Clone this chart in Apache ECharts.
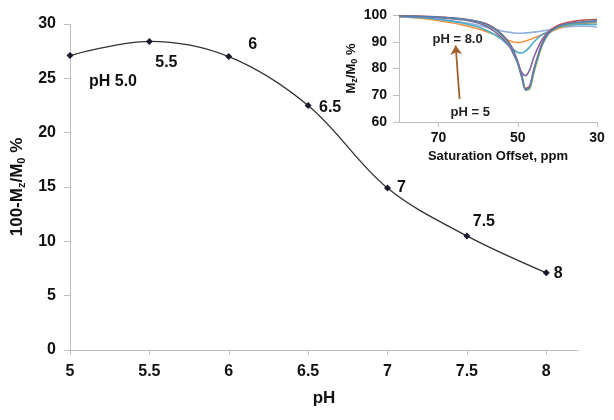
<!DOCTYPE html>
<html>
<head>
<meta charset="utf-8">
<script src="https://cdn.jsdelivr.net/npm/echarts@6/dist/echarts.min.js"></script>
<style>html,body{margin:0;padding:0;background:#fff}#c{width:614px;height:420px}</style>
</head>
<body>
<div id="c"></div>
<script>
// ---- main chart data ----
const phValues = [5, 5.5, 6, 6.5, 7, 7.5, 8];
const satPercent = [27.1, 28.4, 27.0, 22.5, 14.9, 10.5, 7.1];
const pointLabels = ['pH 5.0', '5.5', '6', '6.5', '7', '7.5', '8'];
const xTicks = [5, 5.5, 6, 6.5, 7, 7.5, 8];

// ---- inset (Z-spectra) data ----
const offsetPpm = [80,76,72,68,64,60,58,56,54,52,51,50,49,48,47,46,45,44,43,42,40,38,35,32,30];
const zPH5  = [99.6,99.5,99.3,99.0,98.5,97.5,96.5,95.0,92.5,89.0,86.0,82.0,77.0,72.0,73.0,79.0,84.0,88.5,91.5,93.5,95.5,96.5,97.2,97.6,97.8];
const zPH55 = [99.7,99.6,99.4,99.1,98.6,97.6,96.7,95.2,92.8,89.3,86.4,82.5,77.5,72.5,73.5,79.5,84.5,89.0,92.0,94.0,96.0,97.0,97.8,98.2,98.3];
const zPH6  = [99.6,99.5,99.3,99.0,98.4,97.4,96.4,94.8,92.3,88.8,85.8,81.7,76.5,72.0,72.3,78.0,83.3,88.0,91.2,93.2,95.2,96.3,97.0,97.4,97.5];
const zPH65 = [99.6,99.4,99.2,98.8,98.2,97.0,95.8,94.0,91.5,88.0,85.0,82.0,78.5,77.3,79.5,84.0,87.5,90.5,92.5,94.0,95.8,96.6,97.0,97.3,97.4];
const zPH7  = [99.5,99.2,98.7,98.0,97.0,95.5,94.3,92.8,90.8,88.2,87.0,86.0,85.8,86.6,88.0,89.8,91.3,92.5,93.3,94.0,95.3,96.0,96.5,96.5,96.5];
const zPH75 = [99.4,99.0,98.3,97.4,96.3,94.8,93.8,92.7,91.5,90.3,89.9,89.7,89.9,90.3,90.8,91.4,92.0,92.6,93.1,93.6,94.8,95.8,96.6,97.0,97.2];
const zPH8  = [99.3,99.0,98.6,98.0,97.2,96.2,95.5,94.8,94.0,93.5,93.3,93.2,93.2,93.3,93.4,93.6,93.8,94.0,94.3,94.5,95.0,95.5,95.8,95.8,95.5];
const insetSeriesNames = ['pH 5','pH 5.5','pH 6','pH 6.5','pH 7','pH 7.5','pH 8'];
const insetTicks = [30, 50, 70];

const insetData = [zPH5, zPH55, zPH6, zPH65, zPH7, zPH75, zPH8];
const insetColors = ['#4F81BD','#C0504D','#9BBB59','#8064A2','#4BACC6','#F79646','#8FB0DA'];
const labelOffsets = [[43,26],[17,21],[24,-12],[22,2],[14,0],[17,-14],[12,1]];

const FONT = '"Liberation Sans", Arial, sans-serif';
const axisGray = '#BFBFBF';

const chart = echarts.init(document.getElementById('c'), null, {renderer: 'canvas'});

const insetSeries = insetData.map((arr, i) => ({
  name: insetSeriesNames[i],
  type: 'line',
  xAxisIndex: 1, yAxisIndex: 1,
  smooth: 0.3,
  symbol: 'none',
  lineStyle: {width: 1.6, color: insetColors[i]},
  z: 3 + (6 - i),
  data: offsetPpm.map((x, j) => [x, arr[j]])
}));

// annotation series (arrow + texts) in inset coordinates
insetSeries.push({
  type: 'line', xAxisIndex: 1, yAxisIndex: 1, data: [], symbol: 'none',
  markLine: {
    silent: true, symbol: ['none', 'arrow'], symbolSize: 9,
    label: {show: false},
    lineStyle: {color: '#A0622D', width: 1.8, type: 'solid'},
    data: [[{coord: [64.7, 68.6]}, {coord: [65.7, 88.6]}]]
  },
  markPoint: {
    silent: true, symbol: 'circle', symbolSize: 0,
    label: {show: true, position: 'inside', color: '#222', fontFamily: FONT, fontWeight: 'bold', fontSize: 13},
    data: [
      {coord: [65.2, 90.7], value: 'pH = 8.0', label: {formatter: 'pH = 8.0'}},
      {coord: [62.0, 63.7], value: 'pH = 5', label: {formatter: 'pH = 5'}}
    ]
  }
});

const option = {
  backgroundColor: '#fff',
  animation: false,
  grid: [
    {left: 70, right: 36, top: 24, bottom: 70},
    {left: 399, right: 17, top: 15, bottom: 298}
  ],
  xAxis: [
    {
      type: 'value', gridIndex: 0, min: 5, max: 8.2, interval: 0.5,
      name: 'pH', nameLocation: 'middle', nameGap: 40,
      nameTextStyle: {fontFamily: FONT, fontWeight: 'bold', fontSize: 17, color: '#111'},
      axisLine: {show: true, lineStyle: {color: axisGray, width: 1}},
      axisTick: {show: true, length: 5, lineStyle: {color: axisGray}, customValues: xTicks},
      axisLabel: {customValues: xTicks, margin: 14, fontFamily: FONT, fontWeight: 'bold', fontSize: 16, color: '#111'},
      splitLine: {show: false}
    },
    {
      type: 'value', gridIndex: 1, min: 30, max: 80, inverse: true, interval: 20,
      name: 'Saturation Offset, ppm', nameLocation: 'middle', nameGap: 28,
      nameTextStyle: {fontFamily: FONT, fontWeight: 'bold', fontSize: 13, color: '#111'},
      axisLine: {show: true, lineStyle: {color: axisGray}},
      axisTick: {show: true, length: 5, lineStyle: {color: axisGray}, customValues: insetTicks},
      axisLabel: {customValues: insetTicks, margin: 9, fontFamily: FONT, fontWeight: 'bold', fontSize: 14, color: '#111'},
      splitLine: {show: false}
    }
  ],
  yAxis: [
    {
      type: 'value', gridIndex: 0, min: 0, max: 30, interval: 5,
      name: '{a|100-M}{s|z}{a|/M}{s|0}{a| %}', nameLocation: 'middle', nameGap: 36, nameRotate: 90,
      nameTextStyle: {
        rich: {
          a: {fontFamily: FONT, fontWeight: 'bold', fontSize: 17, color: '#111'},
          s: {fontFamily: FONT, fontWeight: 'bold', fontSize: 11, color: '#111', verticalAlign: 'bottom', padding: [8, 0, 0, 0]}
        }
      },
      axisLine: {show: true, lineStyle: {color: axisGray}},
      axisTick: {show: true, length: 6, lineStyle: {color: axisGray}},
      axisLabel: {margin: 14, fontFamily: FONT, fontWeight: 'bold', fontSize: 16, color: '#111'},
      splitLine: {show: false}
    },
    {
      type: 'value', gridIndex: 1, min: 60, max: 100, interval: 10,
      name: '{a|M}{s|z}{a|/M}{s|0}{a| %}', nameLocation: 'middle', nameGap: 40, nameRotate: 90,
      nameTextStyle: {
        rich: {
          a: {fontFamily: FONT, fontWeight: 'bold', fontSize: 13, color: '#111'},
          s: {fontFamily: FONT, fontWeight: 'bold', fontSize: 9, color: '#111', verticalAlign: 'bottom', padding: [6, 0, 0, 0]}
        }
      },
      axisLine: {show: true, lineStyle: {color: axisGray}},
      axisTick: {show: true, length: 6, lineStyle: {color: axisGray}},
      axisLabel: {margin: 12, fontFamily: FONT, fontWeight: 'bold', fontSize: 14, color: '#111'},
      splitLine: {show: false}
    }
  ],
  series: [
    {
      type: 'line', xAxisIndex: 0, yAxisIndex: 0,
      smooth: 0.35,
      symbol: 'diamond', symbolSize: 7,
      itemStyle: {color: '#1a1a2e'},
      lineStyle: {color: '#333', width: 1.3},
      data: phValues.map((x, i) => ({
        value: [x, satPercent[i]],
        label: {
          show: true, position: 'inside', offset: labelOffsets[i],
          formatter: pointLabels[i],
          fontFamily: FONT, fontWeight: 'bold', fontSize: 16, color: '#111'
        }
      }))
    }
  ].concat(insetSeries)
};

chart.setOption(option);
</script>
</body>
</html>
